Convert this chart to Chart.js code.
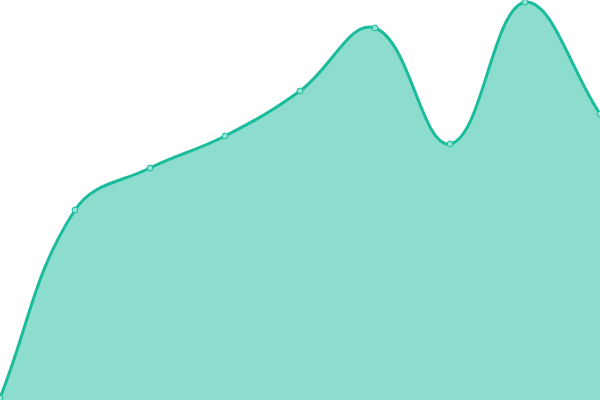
<!DOCTYPE html>
<html>
<head>
<meta charset="utf-8">
<script src="https://cdn.jsdelivr.net/npm/chart.js@4"></script>
<style>
  html, body { margin: 0; padding: 0; background: #fff; }
  #wrap { width: 600px; height: 400px; }
</style>
</head>
<body>
<div id="wrap"><canvas id="myChart"></canvas></div>
<script>
// values
const labels = ["1", "2", "3", "4", "5", "6", "7", "8", "9"];
const valori = [2, 190, 232, 264, 309, 372, 256, 398, 286];

const ctx = document.getElementById("myChart");

new Chart(ctx, {
  type: "line",
  data: {
    labels: labels,
    datasets: [
      {
        data: valori,
        fill: true,
        backgroundColor: "rgba(26, 188, 156, 0.5)",
        borderColor: "#1abc9c",
        borderWidth: 3,
        tension: 0.4,
        pointRadius: 3,
        pointBackgroundColor: "#8fe3d2",
        pointBorderColor: "#1abc9c",
        pointBorderWidth: 1,
      },
    ],
  },
  options: {
    responsive: true,
    maintainAspectRatio: false,
    animation: false,
    layout: { padding: 0, autoPadding: false },
    plugins: { legend: { display: false }, tooltip: { enabled: false } },
    scales: {
      x: { display: false, offset: false },
      y: { display: false, min: 0, max: 400 },
    },
  },
});
</script>
</body>
</html>
